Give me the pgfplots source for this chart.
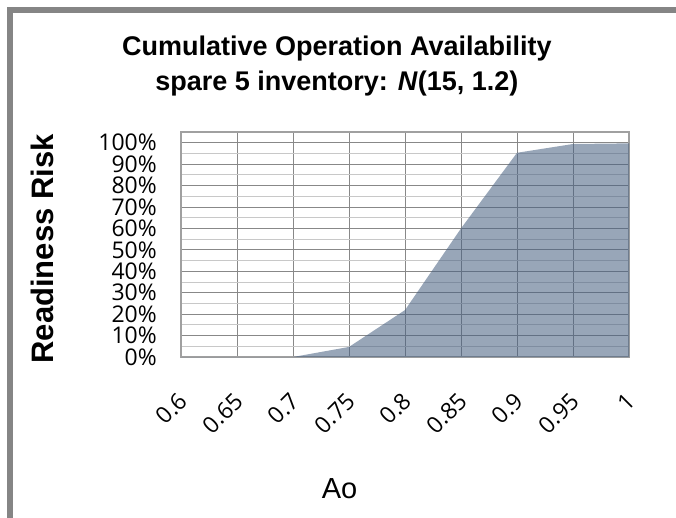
\documentclass[border=0pt]{standalone}
\usepackage{fontspec}
\setmainfont{Liberation Sans}
\newfontfamily\ticksans{Open Sans}
\usepackage{pgfplots}
\pgfplotsset{compat=1.18}
\definecolor{framegray}{RGB}{133,133,133}
\definecolor{areafill}{RGB}{71,96,129}
\definecolor{majgrid}{RGB}{136,136,136}
\definecolor{mingrid}{RGB}{200,200,200}
\definecolor{axisgray}{RGB}{160,160,160}

\begin{document}
\begin{tikzpicture}[x=1pt,y=1pt]
\useasboundingbox (0,0) rectangle (676,-518);
\draw[line width=6pt, framegray, line join=miter] (10,-520) -- (10,-10) -- (680,-10);
\begin{axis}[
  at={(181pt,-357pt)}, anchor=south west,
  scale only axis,
  width=448pt, height=225pt,
  xmin=0, xmax=8, ymin=0, ymax=105,
  xtick={0,...,8},
  xticklabels={0.6,0.65,0.7,0.75,0.8,0.85,0.9,0.95,1},
  ytick={0,10,...,100},
  yticklabels={0\%,10\%,20\%,30\%,40\%,50\%,60\%,70\%,80\%,90\%,100\%},
  minor ytick={5,15,...,95},
  major tick length=0pt, minor tick length=0pt,
  grid=both,
  major grid style={majgrid, line width=1pt},
  minor grid style={mingrid, line width=1pt},
  axis line style={axisgray, line width=1.5pt},
  tick label style={font=\ticksans\fontsize{23}{23}\selectfont},
  yticklabel style={anchor=east, inner sep=0pt, xshift=-24pt},
  xticklabel style={inner sep=0pt, xshift=2pt, yshift=-40pt, rotate=45, anchor=east},
  title={Cumulative Operation Availability\\spare 5 inventory: \textit{N}(15, 1.2)},
  title style={font=\bfseries\fontsize{27}{35}\selectfont, align=center, inner sep=0pt,
    at={(axis description cs:0.348,1)}, anchor=north, yshift=90pt},
  ylabel={Readiness Risk},
  ylabel style={font=\bfseries\fontsize{31}{31}\selectfont, inner sep=0pt,
    at={(axis description cs:-0.2857,0.48)}, anchor=base, rotate=0},
  xlabel={Ao},
  xlabel style={font=\fontsize{29}{29}\selectfont, inner sep=0pt,
    at={(axis description cs:0.354,-0.627)}, anchor=base},
]
\addplot[draw=none, fill=areafill, fill opacity=0.56] coordinates {
  (0,0) (1,0) (2,0) (3,4.7) (4,21.9) (5,60) (6,95.3) (7,99.4) (8,99.7)
} \closedcycle;
\end{axis}
\end{tikzpicture}
\end{document}
